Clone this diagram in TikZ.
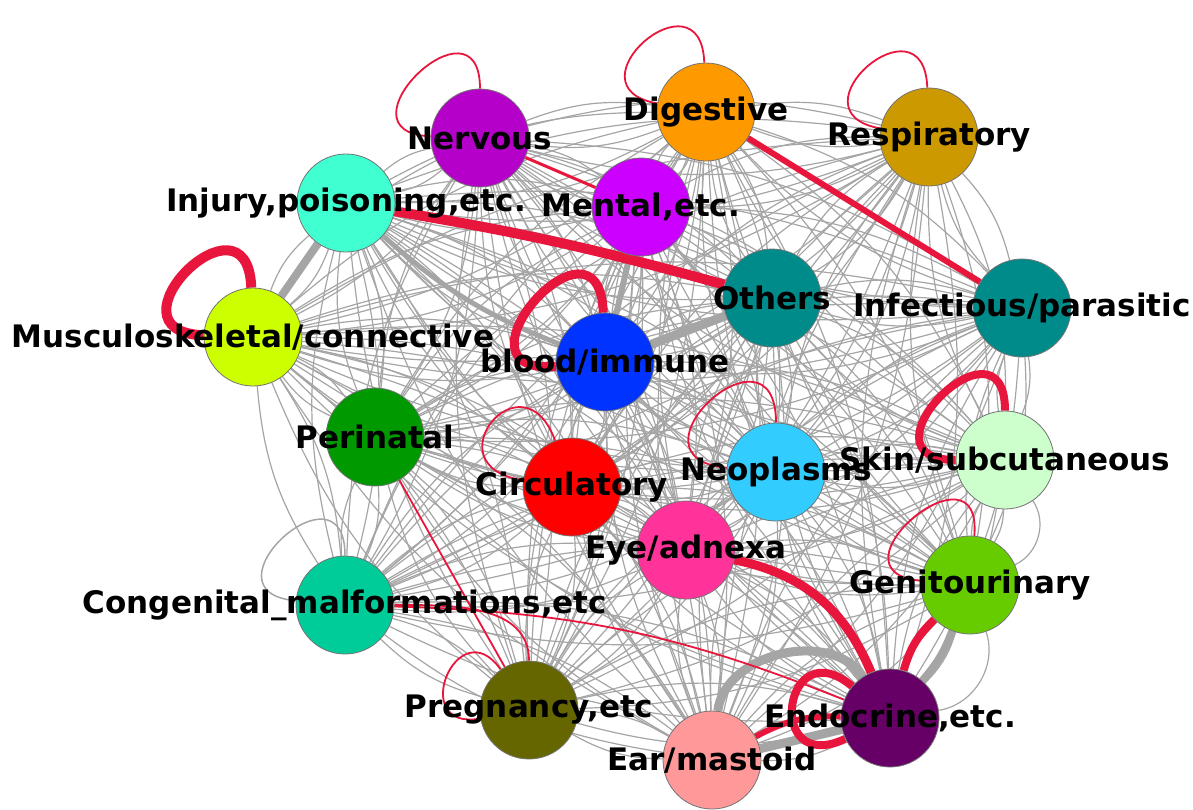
\documentclass[tikz,border=0pt]{standalone}
\usepackage{fontspec}
\setmainfont{DejaVu Sans}

\definecolor{cNerv}{RGB}{180,0,200}
\definecolor{cDig}{RGB}{255,153,0}
\definecolor{cResp}{RGB}{204,153,0}
\definecolor{cInj}{RGB}{64,255,208}
\definecolor{cMent}{RGB}{204,0,255}
\definecolor{cOth}{RGB}{0,139,139}
\definecolor{cInf}{RGB}{0,139,139}
\definecolor{cMusc}{RGB}{204,255,0}
\definecolor{cBlood}{RGB}{0,51,255}
\definecolor{cPeri}{RGB}{0,153,0}
\definecolor{cCirc}{RGB}{255,0,0}
\definecolor{cNeo}{RGB}{51,204,255}
\definecolor{cSkin}{RGB}{204,255,204}
\definecolor{cEye}{RGB}{255,51,153}
\definecolor{cGeni}{RGB}{102,204,0}
\definecolor{cCong}{RGB}{0,204,153}
\definecolor{cPreg}{RGB}{102,102,0}
\definecolor{cEndo}{RGB}{102,0,102}
\definecolor{cEar}{RGB}{255,153,153}
\definecolor{linkgray}{RGB}{165,165,165}
\definecolor{linkred}{RGB}{232,22,60}

\pgfdeclarelayer{edges}
\pgfdeclarelayer{labels}
\pgfsetlayers{edges,main,labels}

\begin{document}
\begin{tikzpicture}[x=1pt,y=-1pt,
  vert/.style = {circle, draw=black!55, line width=0.8pt,
    minimum size=98pt, inner sep=0pt},
  lbl/.style = {font=\fontsize{31}{33}\selectfont\bfseries, inner sep=0pt},
  link/.style = {draw=linkgray, line width=1.2pt},
  redlink/.style = {draw=linkred, line width=1.8pt}]
  \useasboundingbox (0,0) rectangle (1193,809);

  \foreach \n/\x/\y/\c in {nerv/480/138/cNerv, dig/706/112/cDig,
      resp/929/137/cResp, inj/346/203/cInj, ment/641/207/cMent,
      oth/772/298/cOth, inf/1022/308/cInf, musc/253/337/cMusc,
      blood/605/362/cBlood, peri/375/437/cPeri, circ/572/487/cCirc,
      neo/776/472/cNeo, skin/1005/460/cSkin, eye/686/550/cEye,
      geni/970/585/cGeni, cong/345/605/cCong, preg/529/710/cPreg,
      endo/890/718/cEndo, ear/712/760/cEar}
    \node[vert, fill=\c] (\n) at (\x,\y) {};

  \begin{pgfonlayer}{edges}
    \def\allv{nerv,dig,resp,inj,ment,oth,inf,musc,blood,peri,circ,neo,skin,eye,geni,cong,preg,endo,ear}
    \foreach \a in \allv {
      \foreach \b in \allv {
        \ifx\a\b\else \draw[link] (\a) to[bend left=14] (\b); \fi
      }
    }
    % heavy grey links
    \draw[link, line width=8pt] (inj) -- (musc);
    \draw[link, line width=9pt] (blood) -- (oth);
    \draw[link, line width=6pt] (blood) -- (ment);
    \draw[link, line width=5pt] (inj) to[bend right=10] (blood);
    \draw[link, line width=9pt] (ear) to[bend left=70] (endo);
    \draw[link, line width=9pt] (ear) -- (endo);
    \draw[link, line width=8pt] (geni) to[bend left=10] (endo);
    \draw[link] (skin) to[bend left=50] (geni);
    \draw[link] (geni) to[bend left=50] (endo);
    \draw[link, line width=1.5pt] (cong) to[out=90,in=175,min distance=100pt] (cong);
    % red links
    \draw[redlink, line width=10pt] (inj) to[bend left=3] (oth);
    \draw[redlink, line width=6pt] (dig) -- (inf);
    \draw[redlink, line width=3pt] (nerv) -- (ment);
    \draw[redlink, line width=9pt] (eye) to[bend left=28] (endo);
    \draw[redlink, line width=8pt] (geni) to[bend right=15] (endo);
    \draw[redlink, line width=6pt] (ear) to[bend left=15] (endo);
    \draw[redlink] (peri) -- (preg);
    \draw[redlink] (cong) to[bend left=10] (endo);
    \draw[redlink] (cong) to[out=0,in=90] (preg);
    % self loops
    \draw[redlink] (nerv) to[out=90,in=178,min distance=100pt] (nerv);
    \draw[redlink] (dig) to[out=92,in=170,min distance=95pt] (dig);
    \draw[redlink] (resp) to[out=92,in=170,min distance=95pt] (resp);
    \draw[redlink, line width=10pt] (musc) to[out=92,in=178,min distance=105pt] (musc);
    \draw[redlink, line width=9pt] (blood) to[out=92,in=185,min distance=115pt] (blood);
    \draw[redlink] (circ) to[out=110,in=172,min distance=95pt] (circ);
    \draw[redlink] (neo) to[out=90,in=175,min distance=110pt] (neo);
    \draw[redlink, line width=8pt] (skin) to[out=90,in=180,min distance=105pt] (skin);
    \draw[redlink] (geni) to[out=85,in=175,min distance=100pt] (geni);
    \draw[redlink] (preg) to[out=125,in=190,min distance=75pt] (preg);
    \draw[redlink, line width=8pt] (endo) to[out=140,in=205,min distance=90pt] (endo);
  \end{pgfonlayer}

  \begin{pgfonlayer}{labels}
    \foreach \n/\t in {nerv/Nervous, dig/Digestive, resp/Respiratory,
        inj/{Injury,poisoning,etc.}, ment/{Mental,etc.}, oth/Others,
        inf/{Infectious/parasitic}, musc/{Musculoskeletal/connective},
        blood/{blood/immune}, peri/Perinatal, circ/Circulatory,
        neo/Neoplasms, skin/{Skin/subcutaneous}, eye/{Eye/adnexa},
        geni/Genitourinary, cong/{Congenital\_malformations,etc},
        preg/{Pregnancy,etc}, endo/{Endocrine,etc.}, ear/{Ear/mastoid}}
      \node[lbl] (\n-l) at (\n) {\t};
  \end{pgfonlayer}
\end{tikzpicture}
\end{document}
